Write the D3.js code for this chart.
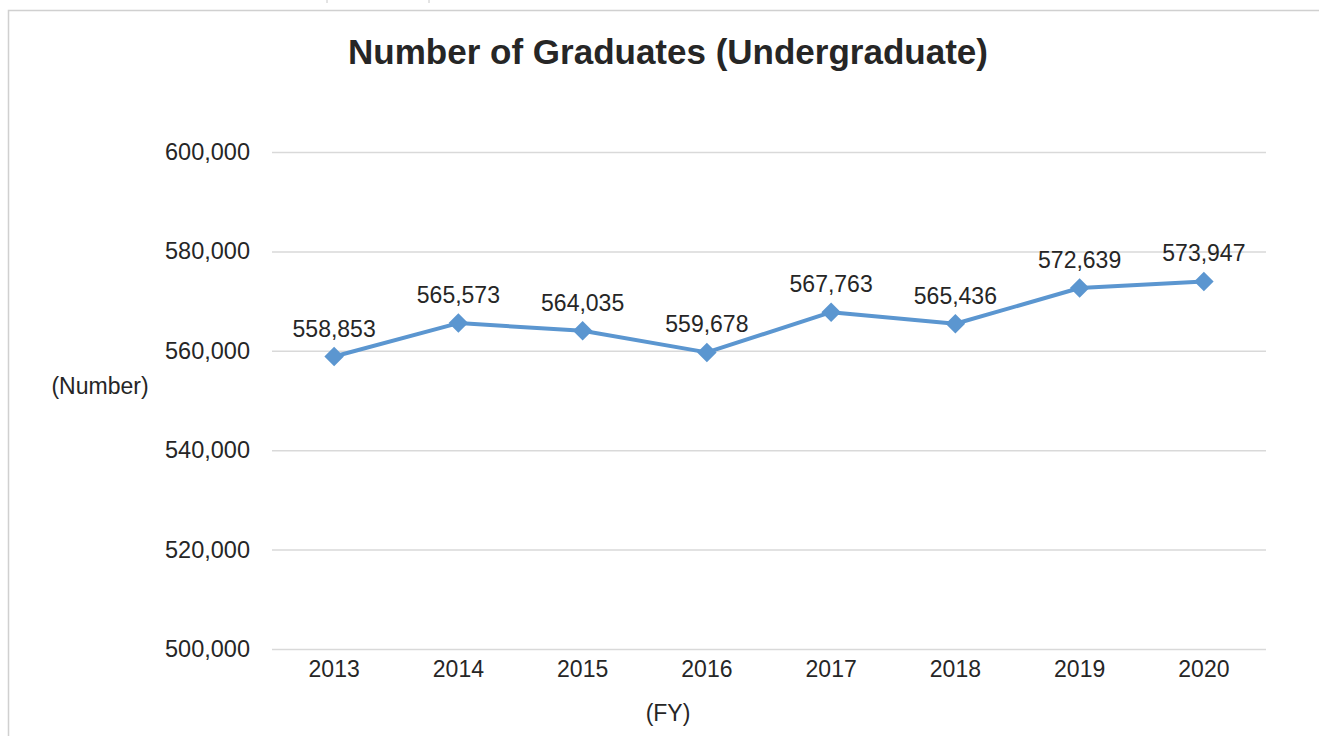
<!DOCTYPE html>
<html>
<head>
<meta charset="utf-8">
<script src="https://d3js.org/d3.v7.min.js"></script>
<style>
body { margin: 0; background: #fff; }
text { font-family: "Liberation Sans", Arial, sans-serif; fill: #262626; }
</style>
</head>
<body>
<svg id="chart" width="1319" height="736"></svg>
<script>
// chart data
var years = ["2013", "2014", "2015", "2016", "2017", "2018", "2019", "2020"];
var graduates = [558853, 565573, 564035, 559678, 567763, 565436, 572639, 573947];
var yTicks = [500000, 520000, 540000, 560000, 580000, 600000];

var svg = d3.select("#chart");
var fmt = d3.format(",");

// outer frame
svg.append("rect")
  .attr("x", 8.5).attr("y", 10.5)
  .attr("width", 1319).attr("height", 740)
  .attr("fill", "none")
  .attr("stroke", "#d0d0d0")
  .attr("stroke-width", 1.5);

// bits of the sheet above the frame
svg.selectAll("line.top").data([327, 429]).enter().append("line")
  .attr("x1", function(d) { return d; }).attr("x2", function(d) { return d; })
  .attr("y1", 0).attr("y2", 3)
  .attr("stroke", "#c8c8c8");

var x = d3.scaleBand().domain(years).range([272, 1266]);
var y = d3.scaleLinear().domain([500000, 600000]).range([649, 152]);

svg.append("text")
  .attr("x", 668).attr("y", 64)
  .attr("text-anchor", "middle")
  .style("font-size", "35px").style("font-weight", "bold")
  .text("Number of Graduates (Undergraduate)");

// gridlines + y labels
var yAxis = svg.append("g")
  .attr("transform", "translate(272,0)")
  .call(d3.axisLeft(y).tickValues(yTicks).tickSize(-994).tickPadding(22).tickFormat(fmt));
yAxis.select(".domain").remove();
yAxis.selectAll(".tick line").attr("stroke", "#d9d9d9").attr("stroke-width", 1.5);
yAxis.selectAll(".tick text").style("font-size", "23.5px").attr("fill", "#262626")
  .style("font-family", "Liberation Sans, Arial, sans-serif");

// x labels
var xAxis = svg.append("g")
  .attr("transform", "translate(0,649)")
  .call(d3.axisBottom(x).tickSize(0).tickPadding(12));
xAxis.select(".domain").remove();
xAxis.selectAll(".tick text").style("font-size", "23px").attr("fill", "#262626")
  .style("font-family", "Liberation Sans, Arial, sans-serif");

svg.append("text").attr("x", 100).attr("y", 394)
  .attr("text-anchor", "middle").style("font-size", "23px").text("(Number)");
svg.append("text").attr("x", 668).attr("y", 721)
  .attr("text-anchor", "middle").style("font-size", "23px").text("(FY)");

var pts = years.map(function(d, i) { return { year: d, v: graduates[i] }; });
var cx = function(d) { return x(d.year) + x.bandwidth() / 2; };

svg.append("path")
  .datum(pts)
  .attr("fill", "none")
  .attr("stroke", "#5b96d0")
  .attr("stroke-width", 4)
  .attr("stroke-linejoin", "round")
  .attr("d", d3.line().x(cx).y(function(d) { return y(d.v); }));

svg.selectAll("path.mk").data(pts).enter().append("path")
  .attr("class", "mk")
  .attr("d", d3.symbol().type(d3.symbolSquare).size(190))
  .attr("transform", function(d) { return "translate(" + cx(d) + "," + y(d.v) + ") rotate(45)"; })
  .attr("fill", "#5b96d0");

svg.selectAll("text.lbl").data(pts).enter().append("text")
  .attr("class", "lbl")
  .attr("x", cx)
  .attr("y", function(d) { return y(d.v) - 20; })
  .attr("text-anchor", "middle")
  .style("font-size", "23px")
  .text(function(d) { return fmt(d.v); });
</script>
</body>
</html>
